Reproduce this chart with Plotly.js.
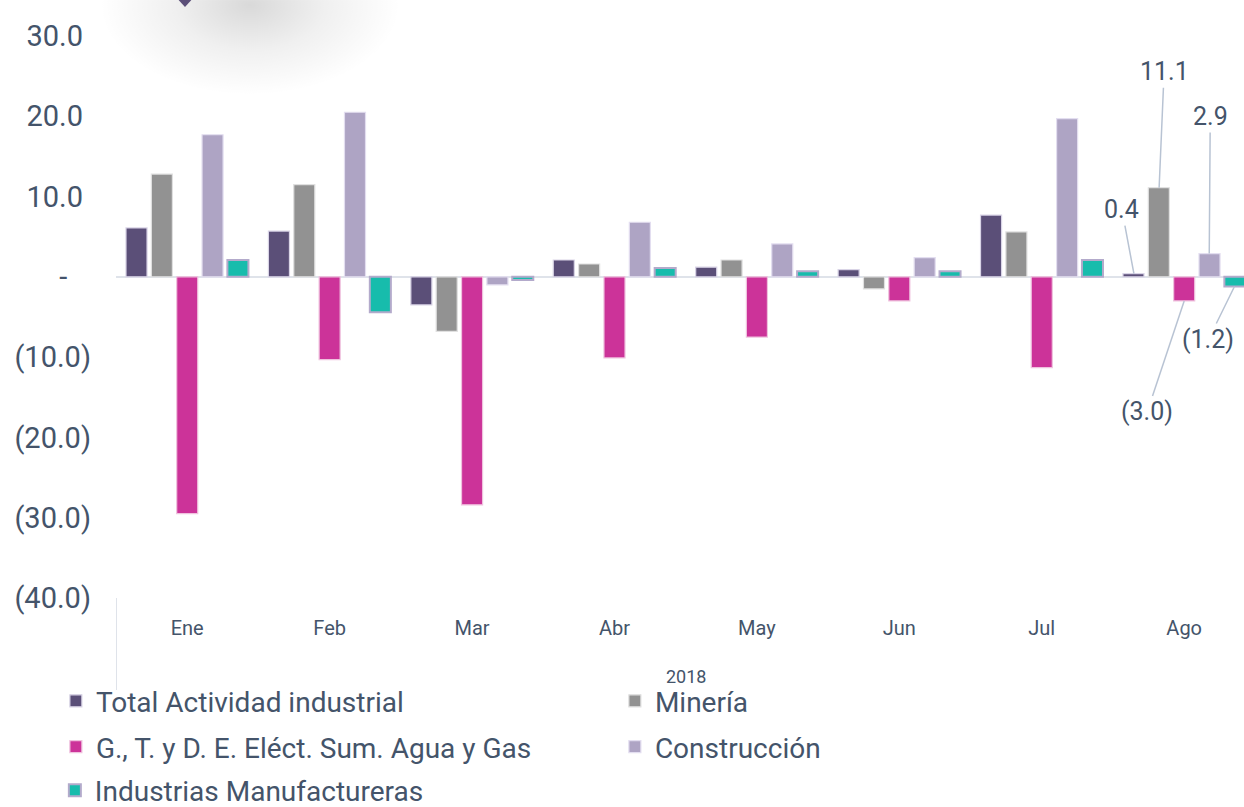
<!DOCTYPE html>
<html>
<head>
<meta charset="utf-8">
<script src="https://cdn.plot.ly/plotly-3.0.1.min.js"></script>
<style>
  html, body { margin: 0; padding: 0; background: #ffffff; overflow: hidden; }
  #chart { width: 1244px; height: 807px; }
</style>
</head>
<body>
<div id="chart"></div>
<script>
// ---- Data ----
const year = "2018";
const months = ["Ene", "Feb", "Mar", "Abr", "May", "Jun", "Jul", "Ago"];
const seriesNames = [
  "Total Actividad industrial",
  "Minería",
  "G., T. y D. E. Eléct. Sum. Agua y Gas",
  "Construcción",
  "Industrias Manufactureras"
];
const totalActividad = [6.1, 5.7, -3.5, 2.1, 1.2, 0.9, 7.7, 0.4];
const mineria        = [12.8, 11.5, -6.8, 1.6, 2.1, -1.5, 5.6, 11.1];
const electricidad   = [-29.5, -10.3, -28.4, -10.1, -7.5, -3.0, -11.3, -3.0];
const construccion   = [17.7, 20.5, -1.0, 6.8, 4.1, 2.4, 19.7, 2.9];
const manufactura    = [2.1, -4.4, -0.4, 1.1, 0.7, 0.7, 2.1, -1.2];
const yTickVals = [-40, -30, -20, -10, 0, 10, 20, 30];

// ---- Styles ----
const textColor = "#44546a";
const fontFam = "Roboto, 'Open Sans', sans-serif";
const colors = ["#5b4f78", "#929292", "#cc3399", "#aea4c4", "#17bcac"];
const lineColors = ["#d9d4e6", "#e0e0e0", "#efc2de", "#e3def0", "#b3aacb"];
const lineWidths = [1.2, 1.2, 1.2, 1.2, 2];
const legendIds = ["legend", "legend", "legend2", "legend2", "legend3"];

function fmt(v) {
  if (v === 0) return "-";
  const s = Math.abs(v).toFixed(1);
  return v < 0 ? "(" + s + ")" : s;
}
// pad labels so they sit roughly centred in the label column
function padTick(v) {
  const s = fmt(v);
  if (v === 0) return s + "\u2008\u2008\u2008";
  if (v > 0) return s + "\u2008";
  return s;
}

const values = [totalActividad, mineria, electricidad, construccion, manufactura];

const traces = values.map((vals, i) => ({
  type: "bar",
  name: seriesNames[i],
  x: months,
  y: vals,
  legend: legendIds[i],
  marker: { color: colors[i], line: { color: lineColors[i], width: lineWidths[i] } },
  hoverinfo: "y+name"
}));

// Callout labels for the last month
const last = months.length - 1;
const offsets = [-0.353, -0.176, 0, 0.176, 0.353];
const axOff = [-12, 5, -37, 1, -26];
const ayOff = [-64, -116, 111, -137, 53];
const annotations = values.map((vals, i) => ({
  x: last + offsets[i],
  y: vals[last],
  xref: "x",
  yref: "y",
  text: fmt(vals[last]),
  showarrow: true,
  arrowhead: 0,
  arrowwidth: 1.5,
  arrowcolor: "#b8c3d3",
  ax: axOff[i],
  ay: ayOff[i],
  font: { family: fontFam, size: 25, color: textColor }
}));
// group label (year) centred under the months
annotations.push({
  x: (months.length - 1) / 2,
  xref: "x",
  y: -0.1397,
  yref: "paper",
  yanchor: "middle",
  text: year,
  showarrow: false,
  font: { family: fontFam, size: 18, color: textColor }
});

// decorative marker shadow at top
const svg = '<svg xmlns="http://www.w3.org/2000/svg" width="300" height="110" viewBox="0 0 300 110">' +
  '<defs><radialGradient id="g" cx="150" cy="5" r="150" gradientUnits="userSpaceOnUse" gradientTransform="translate(0,5) scale(1,0.6) translate(0,-5)">' +
  '<stop offset="0" stop-color="#000" stop-opacity="0.15"/>' +
  '<stop offset="0.5" stop-color="#000" stop-opacity="0.06"/>' +
  '<stop offset="1" stop-color="#000" stop-opacity="0"/></radialGradient></defs>' +
  '<rect x="0" y="0" width="300" height="110" fill="url(#g)"/>' +
  '<polygon points="75,-4 85,-14 95,-4 85,7" fill="#5b4f78"/></svg>';
const imgSrc = "data:image/svg+xml;charset=utf-8," + encodeURIComponent(svg);

const legendBase = {
  orientation: "h",
  entrywidth: 514,
  entrywidthmode: "pixels",
  x: -0.0533,
  xanchor: "left",
  yanchor: "middle",
  bgcolor: "rgba(0,0,0,0)",
  font: { family: fontFam, size: 28, color: textColor },
  traceorder: "normal"
};

const layout = {
  width: 1244,
  height: 807,
  margin: { l: 116, r: 0, t: 36, b: 209, autoexpand: false },
  paper_bgcolor: "#ffffff",
  plot_bgcolor: "#ffffff",
  font: { family: fontFam, color: textColor },
  barmode: "group",
  bargap: 0.11,
  bargroupgap: 0.17,
  showlegend: true,
  legend: Object.assign({}, legendBase, { y: -0.1835 }),
  legend2: Object.assign({}, legendBase, { y: -0.265 }),
  legend3: Object.assign({}, legendBase, { y: -0.3425, x: -0.0542 }),
  xaxis: {
    type: "category",
    range: [-0.5, 7.42],
    showgrid: false,
    showline: false,
    zeroline: false,
    ticks: "",
    ticklabelstandoff: 16,
    automargin: false,
    tickfont: { family: fontFam, size: 20, color: textColor }
  },
  yaxis: {
    range: [-40, 30],
    tickvals: yTickVals,
    ticktext: yTickVals.map(padTick),
    showgrid: false,
    showline: false,
    zeroline: true,
    zerolinecolor: "#dfe3ea",
    zerolinewidth: 2,
    ticks: "",
    ticklabelstandoff: 24,
    automargin: false,
    tickfont: { family: fontFam, size: 29, color: textColor }
  },
  shapes: [{
    type: "line",
    xref: "x", yref: "paper",
    x0: -0.5, x1: -0.5,
    y0: 0, y1: -0.1637,
    line: { color: "#dfe3ea", width: 2 }
  }],
  annotations: annotations,
  images: [{
    source: imgSrc,
    xref: "paper", yref: "paper",
    x: -0.0142, y: 1.064,
    sizex: 0.266, sizey: 0.1957,
    sizing: "stretch",
    xanchor: "left", yanchor: "top",
    layer: "below"
  }]
};

Plotly.newPlot("chart", traces, layout, { displayModeBar: false, responsive: false });
</script>
</body>
</html>
